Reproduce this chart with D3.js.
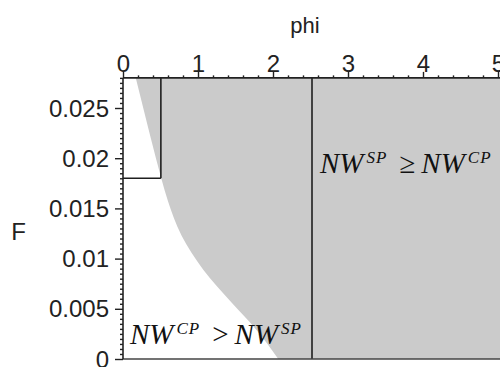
<!DOCTYPE html>
<html><head><meta charset="utf-8">
<script src="https://cdn.jsdelivr.net/npm/d3@7"></script>
<style>
html,body{margin:0;padding:0;background:#fff;}
svg{display:block;}
</style></head>
<body>
<svg id="chart" width="500" height="367"></svg>
<script>
// ---- data ----
const phiTicks = [0, 1, 2, 3, 4, 5];
const phiMinorTicks = [0.2,0.4,0.6,0.8,1.2,1.4,1.6,1.8,2.2,2.4,2.6,2.8,3.2,3.4,3.6,3.8,4.2,4.4,4.6,4.8];
const fTicks = [0, 0.005, 0.01, 0.015, 0.02, 0.025];
const fTickLabels = ["0", "0.005", "0.01", "0.015", "0.02", "0.025"];
// boundary curve between the two regions (F value -> phi value)
const boundaryF   = [0.028, 0.025, 0.022, 0.018, 0.0157, 0.0123, 0.0089, 0.0056, 0.0029, 0];
const boundaryPhi = [0.17,  0.27,  0.37,  0.51,  0.60,   0.78,   1.07,   1.45,   1.78,   2.07];
const thresholdPhi = 2.52;   // long vertical line
const boxPhi = 0.505;        // small box vertical line
const boxF = 0.018;          // small box horizontal line
const phiMax = 5.03, fMax = 0.028;

// ---- layout ----
const svg = d3.select("#chart");
const x = d3.scaleLinear().domain([0, 5]).range([123, 498]);
const y = d3.scaleLinear().domain([0, 0.025]).range([359, 108]);
const X0 = x(0), X1 = x(phiMax), Y0 = y(0), Y1 = y(fMax);

svg.append("defs").append("clipPath").attr("id","clip")
  .append("rect").attr("x",X0).attr("y",Y1).attr("width",X1-X0).attr("height",Y0-Y1);

const plot = svg.append("g").attr("clip-path","url(#clip)");
const curvePts = boundaryF.map((f,i)=>({F:f, phi:boundaryPhi[i]}));

plot.append("path")
  .datum(curvePts)
  .attr("fill","#cbcbcb")
  .attr("d", d3.area().y(d=>y(d.F)).x0(d=>x(d.phi)).x1(X1+5).curve(d3.curveMonotoneY));

const lineCol = "#1e1e1e";
plot.append("line").attr("x1",x(thresholdPhi)).attr("x2",x(thresholdPhi))
  .attr("y1",y(0)).attr("y2",y(fMax)).attr("stroke",lineCol).attr("stroke-width",1.6);
plot.append("line").attr("x1",x(boxPhi)).attr("x2",x(boxPhi))
  .attr("y1",y(boxF)).attr("y2",y(fMax)).attr("stroke",lineCol).attr("stroke-width",1.6);
plot.append("line").attr("x1",x(0)).attr("x2",x(boxPhi))
  .attr("y1",y(boxF)).attr("y2",y(boxF)).attr("stroke",lineCol).attr("stroke-width",1.6);

// bottom boundary line
svg.append("line").attr("x1",X0).attr("x2",X1).attr("y1",Y0).attr("y2",Y0)
  .attr("stroke","#444").attr("stroke-width",1.6);

// ---- axes ----
const tickFont = "Liberation Sans, Arial, sans-serif";
const axCol = "#222";

const xAxis = svg.append("g").attr("transform",`translate(0,${Y1})`)
  .call(d3.axisTop(x).tickValues(phiTicks).tickSize(6).tickSizeOuter(0).tickFormat(d3.format("d")));
xAxis.select(".domain").attr("d",`M${X0},0H${X1}`).attr("stroke",axCol).attr("stroke-width",1.6);
xAxis.selectAll(".tick line").attr("stroke",axCol).attr("stroke-width",1.4);
xAxis.selectAll(".tick text").attr("font-family",tickFont).attr("font-size",24)
  .attr("fill","#222").attr("dy",0).attr("y",-6);

const xMinor = svg.append("g").attr("transform",`translate(0,${Y1})`)
  .call(d3.axisTop(x).tickValues(phiMinorTicks).tickSize(2.5).tickSizeOuter(0).tickFormat(""));
xMinor.select(".domain").remove();
xMinor.selectAll(".tick line").attr("stroke",axCol).attr("stroke-width",1.4);

const yAxis = svg.append("g").attr("transform",`translate(${X0},0)`)
  .call(d3.axisLeft(y).tickValues(fTicks).tickSize(8).tickSizeOuter(0)
    .tickFormat((d,i)=>fTickLabels[i]));
yAxis.select(".domain").attr("d",`M0,${Y1}V${Y0}`).attr("stroke",axCol).attr("stroke-width",1.6);
yAxis.selectAll(".tick line").attr("stroke",axCol).attr("stroke-width",1.4);
yAxis.selectAll(".tick text").attr("font-family",tickFont).attr("font-size",24)
  .attr("fill","#222").attr("x",-14).attr("dy","0.34em");

const fMinor = d3.range(0, 0.02801, 0.0005).filter(v => !fTicks.some(t => Math.abs(t-v)<1e-9));
const yMinor = svg.append("g").attr("transform",`translate(${X0},0)`)
  .call(d3.axisLeft(y).tickValues(fMinor).tickSize(3).tickSizeOuter(0).tickFormat(""));
yMinor.select(".domain").remove();
yMinor.selectAll(".tick line").attr("stroke",axCol).attr("stroke-width",1.4);

// axis titles
svg.append("text").attr("x",305).attr("y",33).attr("text-anchor","middle")
  .attr("font-family",tickFont).attr("font-size",22).attr("fill","#222").text("phi");
svg.append("text").attr("x",18.5).attr("y",240).attr("text-anchor","middle")
  .attr("font-family",tickFont).attr("font-size",24).attr("fill","#222").text("F");

// ---- region labels ----
function mathLabel(x0, y0, a, aSup, rel, b, bSup){
  const t = svg.append("text").attr("x",x0).attr("y",y0)
    .attr("font-family","Liberation Serif, Times New Roman, serif")
    .attr("font-style","italic").attr("font-size",29).attr("fill","#111");
  t.append("tspan").text(a);
  t.append("tspan").attr("font-size",17).attr("dy",-10).attr("dx",3).attr("letter-spacing",1).text(aSup);
  t.append("tspan").attr("dy",10).attr("dx",12).attr("font-style","normal").text(rel);
  t.append("tspan").attr("dx",6).text(b);
  t.append("tspan").attr("font-size",17).attr("dy",-10).attr("dx",3).attr("letter-spacing",1).text(bSup);
}
mathLabel(320, 173, "NW", "SP", "\u2265", "NW", "CP");
mathLabel(130, 344, "NW", "CP", ">", "NW", "SP");
</script>
</body></html>
